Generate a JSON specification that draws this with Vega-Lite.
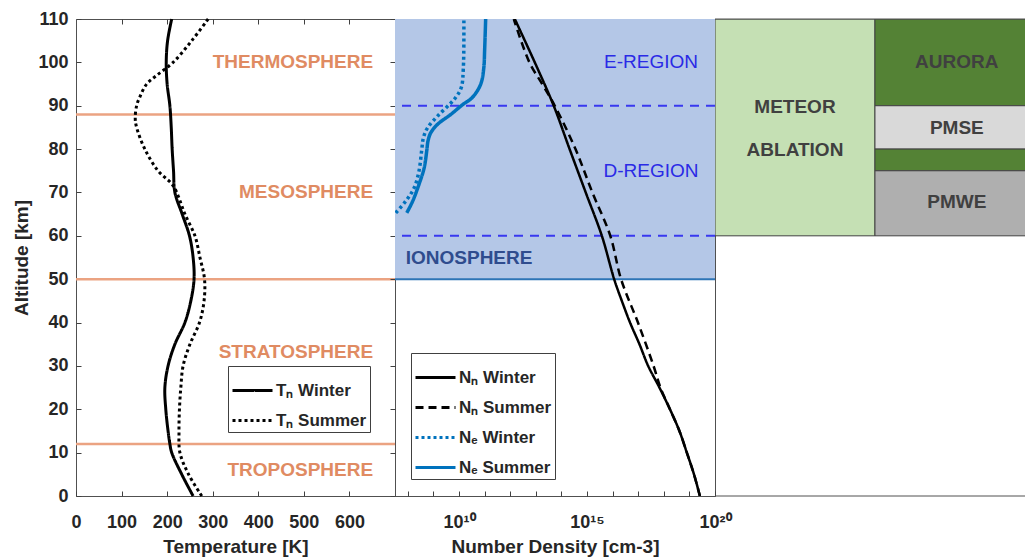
{
  "$schema": "https://vega.github.io/schema/vega-lite/v6.json",
  "autosize": {"type": "pad"},
  "padding": {"left": 12, "top": 9, "right": 0, "bottom": 5},
  "bounds": "flush",
  "spacing": 0,
  "background": "white",
  "resolve": {
    "scale": {"strokeDash": "independent", "color": "independent"},
    "legend": {"strokeDash": "independent", "color": "independent"}
  },
  "config": {
    "font": "Liberation Sans",
    "view": {"stroke": "#505050", "strokeWidth": 1},
    "axis": {
      "grid": false,
      "domain": false,
      "labelFont": "Liberation Sans",
      "labelFontWeight": "bold",
      "labelFontSize": 18,
      "labelColor": "#262626",
      "titleFont": "Liberation Sans",
      "titleFontWeight": "bold",
      "titleFontSize": 19,
      "titleColor": "#262626",
      "tickColor": "#404040",
      "tickSize": -5,
      "labelPadding": 13,
      "labelFlush": false,
      "labelOverlap": false
    },
    "axisX": {"labelPadding": 22},
    "legend": {
      "orient": "none",
      "symbolType": "stroke",
      "symbolSize": 1600,
      "symbolStrokeWidth": 3,
      "labelFont": "Liberation Sans",
      "labelFontSize": 17,
      "labelFontWeight": "bold",
      "labelColor": "#262626",
      "labelOffset": 2,
      "strokeColor": "#404040",
      "fillColor": "white",
      "padding": 3,
      "cornerRadius": 0
    }
  },
  "datasets": {
    "temperature": [
      {"series": "Tₙ Winter", "alt": 110, "T": 210},
      {"series": "Tₙ Winter", "alt": 105, "T": 201},
      {"series": "Tₙ Winter", "alt": 100, "T": 198},
      {"series": "Tₙ Winter", "alt": 95, "T": 200},
      {"series": "Tₙ Winter", "alt": 90, "T": 206},
      {"series": "Tₙ Winter", "alt": 85, "T": 209},
      {"series": "Tₙ Winter", "alt": 80, "T": 211},
      {"series": "Tₙ Winter", "alt": 75, "T": 214},
      {"series": "Tₙ Winter", "alt": 70, "T": 217},
      {"series": "Tₙ Winter", "alt": 65, "T": 233},
      {"series": "Tₙ Winter", "alt": 60, "T": 249},
      {"series": "Tₙ Winter", "alt": 55, "T": 257},
      {"series": "Tₙ Winter", "alt": 50, "T": 259},
      {"series": "Tₙ Winter", "alt": 45, "T": 252},
      {"series": "Tₙ Winter", "alt": 40, "T": 239},
      {"series": "Tₙ Winter", "alt": 35, "T": 217},
      {"series": "Tₙ Winter", "alt": 30, "T": 202},
      {"series": "Tₙ Winter", "alt": 25, "T": 195},
      {"series": "Tₙ Winter", "alt": 20, "T": 197},
      {"series": "Tₙ Winter", "alt": 15, "T": 202},
      {"series": "Tₙ Winter", "alt": 12, "T": 206},
      {"series": "Tₙ Winter", "alt": 10, "T": 210},
      {"series": "Tₙ Winter", "alt": 5, "T": 232},
      {"series": "Tₙ Winter", "alt": 0, "T": 257},
      {"series": "Tₙ Summer", "alt": 110, "T": 290},
      {"series": "Tₙ Summer", "alt": 105, "T": 254},
      {"series": "Tₙ Summer", "alt": 100, "T": 213},
      {"series": "Tₙ Summer", "alt": 97, "T": 177},
      {"series": "Tₙ Summer", "alt": 95, "T": 155},
      {"series": "Tₙ Summer", "alt": 92, "T": 140},
      {"series": "Tₙ Summer", "alt": 90, "T": 133},
      {"series": "Tₙ Summer", "alt": 87, "T": 130},
      {"series": "Tₙ Summer", "alt": 85, "T": 133},
      {"series": "Tₙ Summer", "alt": 80, "T": 151},
      {"series": "Tₙ Summer", "alt": 75, "T": 180},
      {"series": "Tₙ Summer", "alt": 72, "T": 210},
      {"series": "Tₙ Summer", "alt": 70, "T": 221},
      {"series": "Tₙ Summer", "alt": 65, "T": 239},
      {"series": "Tₙ Summer", "alt": 60, "T": 261},
      {"series": "Tₙ Summer", "alt": 55, "T": 272},
      {"series": "Tₙ Summer", "alt": 50, "T": 282},
      {"series": "Tₙ Summer", "alt": 45, "T": 281},
      {"series": "Tₙ Summer", "alt": 40, "T": 271},
      {"series": "Tₙ Summer", "alt": 35, "T": 250},
      {"series": "Tₙ Summer", "alt": 30, "T": 235},
      {"series": "Tₙ Summer", "alt": 25, "T": 230},
      {"series": "Tₙ Summer", "alt": 20, "T": 227},
      {"series": "Tₙ Summer", "alt": 15, "T": 226},
      {"series": "Tₙ Summer", "alt": 10, "T": 228},
      {"series": "Tₙ Summer", "alt": 5, "T": 247},
      {"series": "Tₙ Summer", "alt": 0, "T": 276}
    ],
    "density": [
      {"series": "Nₙ Winter", "kind": "neutral", "alt": 110, "N": 1.51e12},
      {"series": "Nₙ Winter", "kind": "neutral", "alt": 100, "N": 9.12e12},
      {"series": "Nₙ Winter", "kind": "neutral", "alt": 90, "N": 5.01e13},
      {"series": "Nₙ Winter", "kind": "neutral", "alt": 80, "N": 2.09e14},
      {"series": "Nₙ Winter", "kind": "neutral", "alt": 70, "N": 8.91e14},
      {"series": "Nₙ Winter", "kind": "neutral", "alt": 60, "N": 3.80e15},
      {"series": "Nₙ Winter", "kind": "neutral", "alt": 50, "N": 1.15e16},
      {"series": "Nₙ Winter", "kind": "neutral", "alt": 45, "N": 2.29e16},
      {"series": "Nₙ Winter", "kind": "neutral", "alt": 40, "N": 4.79e16},
      {"series": "Nₙ Winter", "kind": "neutral", "alt": 35, "N": 1.12e17},
      {"series": "Nₙ Winter", "kind": "neutral", "alt": 30, "N": 2.45e17},
      {"series": "Nₙ Winter", "kind": "neutral", "alt": 25, "N": 6.76e17},
      {"series": "Nₙ Winter", "kind": "neutral", "alt": 20, "N": 1.74e18},
      {"series": "Nₙ Winter", "kind": "neutral", "alt": 15, "N": 4.07e18},
      {"series": "Nₙ Winter", "kind": "neutral", "alt": 10, "N": 7.94e18},
      {"series": "Nₙ Winter", "kind": "neutral", "alt": 5, "N": 1.51e19},
      {"series": "Nₙ Winter", "kind": "neutral", "alt": 0, "N": 2.57e19},
      {"series": "Nₙ Summer", "kind": "neutral", "alt": 110, "N": 1.38e12},
      {"series": "Nₙ Summer", "kind": "neutral", "alt": 100, "N": 5.62e12},
      {"series": "Nₙ Summer", "kind": "neutral", "alt": 95, "N": 1.78e13},
      {"series": "Nₙ Summer", "kind": "neutral", "alt": 90, "N": 5.50e13},
      {"series": "Nₙ Summer", "kind": "neutral", "alt": 80, "N": 3.55e14},
      {"series": "Nₙ Summer", "kind": "neutral", "alt": 70, "N": 1.62e15},
      {"series": "Nₙ Summer", "kind": "neutral", "alt": 60, "N": 8.13e15},
      {"series": "Nₙ Summer", "kind": "neutral", "alt": 50, "N": 2.14e16},
      {"series": "Nₙ Summer", "kind": "neutral", "alt": 40, "N": 9.77e16},
      {"series": "Nₙ Summer", "kind": "neutral", "alt": 30, "N": 3.98e17},
      {"series": "Nₙ Summer", "kind": "neutral", "alt": 25, "N": 7.41e17},
      {"series": "Nₙ Summer", "kind": "neutral", "alt": 20, "N": 1.74e18},
      {"series": "Nₙ Summer", "kind": "neutral", "alt": 15, "N": 4.07e18},
      {"series": "Nₙ Summer", "kind": "neutral", "alt": 10, "N": 7.94e18},
      {"series": "Nₙ Summer", "kind": "neutral", "alt": 5, "N": 1.51e19},
      {"series": "Nₙ Summer", "kind": "neutral", "alt": 0, "N": 2.57e19},
      {"series": "Nₑ Winter", "kind": "electron", "alt": 110, "N": 1.55e10},
      {"series": "Nₑ Winter", "kind": "electron", "alt": 98.8, "N": 1.48e10},
      {"series": "Nₑ Winter", "kind": "electron", "alt": 94.2, "N": 1.23e10},
      {"series": "Nₑ Winter", "kind": "electron", "alt": 91.9, "N": 7.41e9},
      {"series": "Nₑ Winter", "kind": "electron", "alt": 90.2, "N": 4.07e9},
      {"series": "Nₑ Winter", "kind": "electron", "alt": 87.6, "N": 1.45e9},
      {"series": "Nₑ Winter", "kind": "electron", "alt": 84.9, "N": 5.89e8},
      {"series": "Nₑ Winter", "kind": "electron", "alt": 82.6, "N": 4.07e8},
      {"series": "Nₑ Winter", "kind": "electron", "alt": 79.6, "N": 3.47e8},
      {"series": "Nₑ Winter", "kind": "electron", "alt": 75, "N": 2.75e8},
      {"series": "Nₑ Winter", "kind": "electron", "alt": 71.1, "N": 1.78e8},
      {"series": "Nₑ Winter", "kind": "electron", "alt": 68, "N": 8.32e7},
      {"series": "Nₑ Winter", "kind": "electron", "alt": 65.3, "N": 3.39e7},
      {"series": "Nₑ Summer", "kind": "electron", "alt": 110, "N": 1.10e11},
      {"series": "Nₑ Summer", "kind": "electron", "alt": 102.6, "N": 1.00e11},
      {"series": "Nₑ Summer", "kind": "electron", "alt": 98.8, "N": 9.33e10},
      {"series": "Nₑ Summer", "kind": "electron", "alt": 95, "N": 7.08e10},
      {"series": "Nₑ Summer", "kind": "electron", "alt": 91.9, "N": 3.31e10},
      {"series": "Nₑ Summer", "kind": "electron", "alt": 90.2, "N": 1.35e10},
      {"series": "Nₑ Summer", "kind": "electron", "alt": 88, "N": 4.79e9},
      {"series": "Nₑ Summer", "kind": "electron", "alt": 85.7, "N": 1.45e9},
      {"series": "Nₑ Summer", "kind": "electron", "alt": 83.8, "N": 7.94e8},
      {"series": "Nₑ Summer", "kind": "electron", "alt": 81.9, "N": 6.17e8},
      {"series": "Nₑ Summer", "kind": "electron", "alt": 79.6, "N": 5.50e8},
      {"series": "Nₑ Summer", "kind": "electron", "alt": 75.7, "N": 4.37e8},
      {"series": "Nₑ Summer", "kind": "electron", "alt": 71.9, "N": 2.75e8},
      {"series": "Nₑ Summer", "kind": "electron", "alt": 68, "N": 1.55e8},
      {"series": "Nₑ Summer", "kind": "electron", "alt": 65.3, "N": 9.12e7}
    ],
    "spheres": [
      {"name": "THERMOSPHERE", "T": 652, "alt": 100},
      {"name": "MESOSPHERE", "T": 652, "alt": 70},
      {"name": "STRATOSPHERE", "T": 652, "alt": 33.2},
      {"name": "TROPOSPHERE", "T": 652, "alt": 6}
    ],
    "pauses": [{"alt": 12}, {"alt": 50}, {"alt": 88}],
    "ionosphere": [{"bottom": 50, "top": 110}],
    "regionEdges": [{"alt": 60}, {"alt": 90}],
    "regions": [
      {"name": "E-REGION", "N": 3.16e17, "alt": 100},
      {"name": "D-REGION", "N": 3.16e17, "alt": 75}
    ],
    "ionoLabel": [{"name": "IONOSPHERE", "N": 8.3e7, "alt": 55}],
    "phenomena": [
      {"kind": "meteor", "x0": 0, "x1": 0.516, "bottom": 60, "top": 110},
      {"kind": "aurora", "x0": 0.516, "x1": 1.1, "bottom": 90, "top": 110},
      {"kind": "pmse", "x0": 0.516, "x1": 1.1, "bottom": 80, "top": 90},
      {"kind": "aurora", "x0": 0.516, "x1": 1.1, "bottom": 75, "top": 80},
      {"kind": "pmwe", "x0": 0.516, "x1": 1.1, "bottom": 60, "top": 75}
    ],
    "phenomenaLabels": [
      {"name": "METEOR", "x": 0.258, "alt": 89.8},
      {"name": "ABLATION", "x": 0.258, "alt": 79.8},
      {"name": "AURORA", "x": 0.78, "alt": 100},
      {"name": "PMSE", "x": 0.78, "alt": 84.9},
      {"name": "PMWE", "x": 0.78, "alt": 67.8}
    ],
    "frame": [{"alt": 0}, {"alt": 110}]
  },
  "hconcat": [
    {
      "width": 319,
      "height": 477,
      "layer": [
        {
          "data": {"name": "pauses"},
          "mark": {"type": "rule", "color": "#EBA382", "strokeWidth": 2.5},
          "encoding": {
            "y": {"field": "alt", "type": "quantitative", "scale": {"domain": [0, 110], "nice": false}}
          }
        },
        {
          "data": {"name": "temperature"},
          "mark": {"type": "line", "color": "black", "strokeWidth": 3, "interpolate": "catmull-rom"},
          "encoding": {
            "x": {
              "field": "T", "type": "quantitative",
              "scale": {"domain": [0, 700], "nice": false},
              "axis": {"values": [0, 100, 200, 300, 400, 500, 600], "title": "Temperature [K]", "titlePadding": 6}
            },
            "y": {
              "field": "alt", "type": "quantitative",
              "scale": {"domain": [0, 110], "nice": false},
              "axis": {"values": [0, 10, 20, 30, 40, 50, 60, 70, 80, 90, 100, 110], "title": "Altitude [km]", "titlePadding": 6}
            },
            "order": {"field": "alt", "type": "quantitative"},
            "strokeDash": {
              "field": "series", "type": "nominal",
              "scale": {"domain": ["Tₙ Winter", "Tₙ Summer"], "range": [[1, 0], [3, 3]]},
              "legend": {"title": null, "legendX": 152, "legendY": 347, "rowPadding": -3, "symbolStrokeColor": "black"}
            }
          }
        },
        {
          "data": {"name": "spheres"},
          "mark": {"type": "text", "align": "right", "baseline": "middle", "font": "Liberation Sans", "fontWeight": "bold", "fontSize": 19, "color": "#E08B62"},
          "encoding": {
            "x": {
              "field": "T", "type": "quantitative",
              "scale": {"domain": [0, 700], "nice": false},
              "axis": {"orient": "top", "values": [100, 200, 300, 400, 500, 600], "labels": false, "title": null}
            },
            "y": {"field": "alt", "type": "quantitative", "scale": {"domain": [0, 110], "nice": false}},
            "text": {"field": "name"}
          }
        }
      ],
      "resolve": {"axis": {"x": "independent"}}
    },
    {
      "width": 320,
      "height": 477,
      "layer": [
        {
          "data": {"name": "ionosphere"},
          "mark": {"type": "rect", "color": "#B4C7E7"},
          "encoding": {
            "y": {
              "field": "bottom", "type": "quantitative",
              "scale": {"domain": [0, 110], "nice": false},
              "axis": {"values": [0, 10, 20, 30, 40, 50, 60, 70, 80, 90, 100, 110], "labels": false, "title": null, "tickSize": 5}
            },
            "y2": {"field": "top"}
          }
        },
        {
          "data": {"name": "regionEdges"},
          "mark": {"type": "rule", "color": "#3838F0", "strokeWidth": 2, "strokeDash": [9, 7]},
          "encoding": {"y": {"field": "alt", "type": "quantitative"}}
        },
        {
          "data": {"name": "ionosphere"},
          "mark": {"type": "rule", "color": "#2E75B6", "strokeWidth": 2},
          "encoding": {"y": {"field": "bottom", "type": "quantitative"}}
        },
        {
          "data": {"name": "density"},
          "transform": [{"filter": "datum.kind == 'neutral'"}],
          "mark": {"type": "line", "interpolate": "catmull-rom", "clip": true, "strokeWidth": 2.5},
          "encoding": {
            "x": {
              "field": "N", "type": "quantitative",
              "scale": {"type": "log", "domain": [31622776.6, 1e20], "nice": false},
              "axis": {
                "values": [1e8, 1e9, 1e10, 1e11, 1e12, 1e13, 1e14, 1e15, 1e16, 1e17, 1e18, 1e19, 1e20],
                "labelExpr": "datum.value == 1e10 ? '10¹⁰' : datum.value == 1e15 ? '10¹⁵' : datum.value == 1e20 ? '10²⁰' : ''",
                "title": "Number Density [cm-3]",
                "titlePadding": 6
              }
            },
            "y": {"field": "alt", "type": "quantitative"},
            "order": {"field": "alt", "type": "quantitative"},
            "color": {
              "field": "series", "type": "nominal",
              "scale": {"domain": ["Nₙ Winter", "Nₙ Summer", "Nₑ Winter", "Nₑ Summer"], "range": ["black", "black", "#0072BD", "#0072BD"]},
              "legend": {"title": null, "legendX": 16, "legendY": 334, "rowPadding": 0}
            },
            "strokeDash": {
              "field": "series", "type": "nominal",
              "scale": {"domain": ["Nₙ Winter", "Nₙ Summer", "Nₑ Winter", "Nₑ Summer"], "range": [[1, 0], [8, 5], [3, 3], [1, 0]]},
              "legend": {"title": null, "legendX": 16, "legendY": 334, "rowPadding": 0}
            }
          }
        },
        {
          "data": {"name": "density"},
          "transform": [{"filter": "datum.kind == 'electron'"}],
          "mark": {"type": "line", "interpolate": "catmull-rom", "clip": true, "strokeWidth": 3.5},
          "encoding": {
            "x": {"field": "N", "type": "quantitative"},
            "y": {"field": "alt", "type": "quantitative"},
            "order": {"field": "alt", "type": "quantitative"},
            "color": {"field": "series", "type": "nominal"},
            "strokeDash": {"field": "series", "type": "nominal"}
          }
        },
        {
          "data": {"name": "regions"},
          "mark": {"type": "text", "align": "center", "baseline": "middle", "font": "Liberation Sans", "fontSize": 19, "color": "#2A2AE6"},
          "encoding": {
            "x": {"field": "N", "type": "quantitative"},
            "y": {"field": "alt", "type": "quantitative"},
            "text": {"field": "name"}
          }
        },
        {
          "data": {"name": "ionoLabel"},
          "mark": {"type": "text", "align": "left", "baseline": "middle", "font": "Liberation Sans", "fontWeight": "bold", "fontSize": 19, "color": "#2F4C8E"},
          "encoding": {
            "x": {"field": "N", "type": "quantitative"},
            "y": {"field": "alt", "type": "quantitative"},
            "text": {"field": "name"}
          }
        }
      ]
    },
    {
      "width": 310,
      "height": 477,
      "view": {"stroke": null},
      "layer": [
        {
          "data": {"name": "phenomena"},
          "mark": {"type": "rect", "stroke": "#404040", "strokeWidth": 1, "clip": true},
          "encoding": {
            "x": {"field": "x0", "type": "quantitative", "scale": {"domain": [0, 1], "nice": false, "zero": false}, "axis": null},
            "x2": {"field": "x1"},
            "y": {"field": "bottom", "type": "quantitative", "scale": {"domain": [0, 110], "nice": false}, "axis": null},
            "y2": {"field": "top"},
            "fill": {
              "field": "kind", "type": "nominal",
              "scale": {"domain": ["meteor", "aurora", "pmse", "pmwe"], "range": ["#C5E0B4", "#548235", "#D9D9D9", "#AFAFAF"]},
              "legend": null
            }
          }
        },
        {
          "data": {"name": "frame"},
          "mark": {"type": "rule", "color": "#505050", "strokeWidth": 1},
          "encoding": {"y": {"field": "alt", "type": "quantitative"}}
        },
        {
          "data": {"name": "phenomenaLabels"},
          "mark": {"type": "text", "align": "center", "baseline": "middle", "font": "Liberation Sans", "fontWeight": "bold", "fontSize": 19, "color": "#404040"},
          "encoding": {
            "x": {"field": "x", "type": "quantitative"},
            "y": {"field": "alt", "type": "quantitative"},
            "text": {"field": "name"}
          }
        }
      ]
    }
  ]
}
